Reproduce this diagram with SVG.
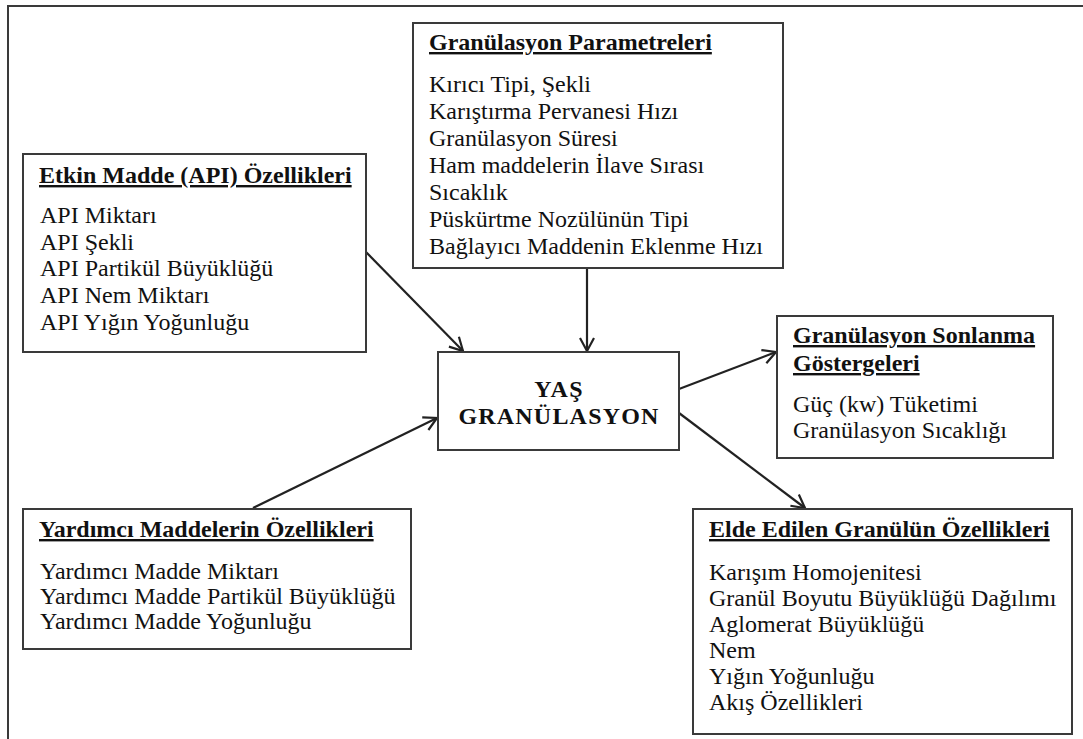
<svg xmlns="http://www.w3.org/2000/svg" width="1083" height="739" viewBox="0 0 1083 739">
<style>
.box{fill:#fff;stroke:#3a3a3a;stroke-width:2}
.frame{fill:none;stroke:#3a3a3a;stroke-width:2}
text{font-family:"Liberation Serif","Times New Roman",serif;fill:#111;font-size:24px}
.t{font-weight:bold;text-decoration:underline}
.c{font-weight:bold;letter-spacing:1.2px;text-anchor:middle}
.con{fill:none;stroke:#222;stroke-width:2.2}
</style>
<defs>
<marker id="arr" markerUnits="userSpaceOnUse" markerWidth="18" markerHeight="18" refX="14" refY="8" orient="auto" viewBox="0 0 18 16">
<path d="M1,1 L14,8 L1,15" fill="none" stroke="#222" stroke-width="2.2"/>
</marker>
</defs>
<rect width="1083" height="739" fill="#fff"/>
<path class="frame" d="M8,739 L8,6 L1083,6"/>

<g id="connectors">
<line class="con" x1="366" y1="252" x2="463" y2="351" marker-end="url(#arr)"/>
<line class="con" x1="587" y1="268" x2="587" y2="351" marker-end="url(#arr)"/>
<line class="con" x1="253" y1="508" x2="437" y2="418" marker-end="url(#arr)"/>
<line class="con" x1="679" y1="389" x2="776" y2="352" marker-end="url(#arr)"/>
<line class="con" x1="679" y1="413" x2="805" y2="508" marker-end="url(#arr)"/>
</g>

<g id="etkin">
<rect class="box" x="23" y="154" width="343" height="198"/>
<text class="t" x="39" y="183">Etkin Madde (API) Özellikleri</text>
<text x="40" y="223">API Miktarı</text>
<text x="40" y="250">API Şekli</text>
<text x="40" y="276">API Partikül Büyüklüğü</text>
<text x="40" y="303">API Nem Miktarı</text>
<text x="40" y="330">API Yığın Yoğunluğu</text>
</g>

<g id="parametreler">
<rect class="box" x="413" y="23" width="370" height="245"/>
<text class="t" x="429" y="50">Granülasyon Parametreleri</text>
<text x="429" y="92">Kırıcı Tipi, Şekli</text>
<text x="429" y="119">Karıştırma Pervanesi Hızı</text>
<text x="429" y="146">Granülasyon Süresi</text>
<text x="429" y="173">Ham maddelerin İlave Sırası</text>
<text x="429" y="200">Sıcaklık</text>
<text x="429" y="227">Püskürtme Nozülünün Tipi</text>
<text x="429" y="254">Bağlayıcı Maddenin Eklenme Hızı</text>
</g>

<g id="merkez">
<rect class="box" x="438" y="352" width="241" height="98"/>
<text class="c" x="559" y="397">YAŞ</text>
<text class="c" x="559" y="424">GRANÜLASYON</text>
</g>

<g id="sonlanma">
<rect class="box" x="777" y="316" width="276" height="142"/>
<text class="t" x="793" y="343">Granülasyon Sonlanma</text>
<text class="t" x="793" y="371">Göstergeleri</text>
<text x="793" y="412">Güç (kw) Tüketimi</text>
<text x="793" y="438">Granülasyon Sıcaklığı</text>
</g>

<g id="yardimci">
<rect class="box" x="23" y="509" width="388" height="140"/>
<text class="t" x="39" y="537">Yardımcı Maddelerin Özellikleri</text>
<text x="40" y="579">Yardımcı Madde Miktarı</text>
<text x="40" y="604">Yardımcı Madde Partikül Büyüklüğü</text>
<text x="40" y="629">Yardımcı Madde Yoğunluğu</text>
</g>

<g id="elde">
<rect class="box" x="693" y="509" width="379" height="225"/>
<text class="t" x="709" y="537">Elde Edilen Granülün Özellikleri</text>
<text x="709" y="580">Karışım Homojenitesi</text>
<text x="709" y="606">Granül Boyutu Büyüklüğü Dağılımı</text>
<text x="709" y="632">Aglomerat Büyüklüğü</text>
<text x="709" y="658">Nem</text>
<text x="709" y="684">Yığın Yoğunluğu</text>
<text x="709" y="710">Akış Özellikleri</text>
</g>
</svg>
